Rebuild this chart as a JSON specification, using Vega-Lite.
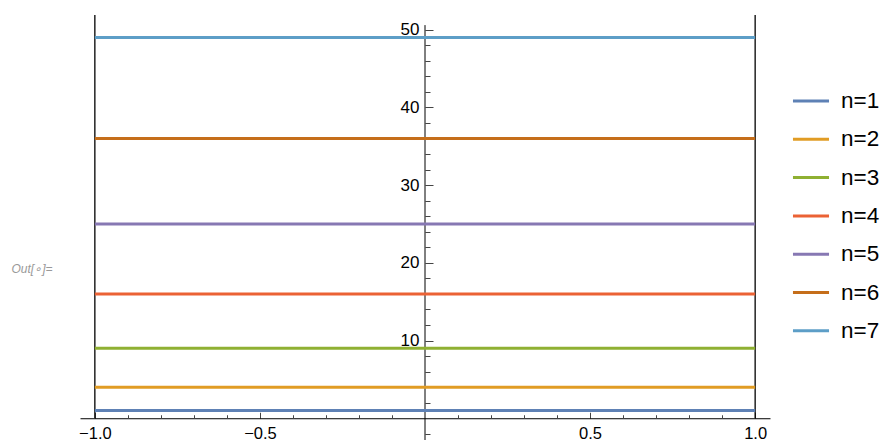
{
  "$schema": "https://vega.github.io/schema/vega-lite/v6.json",
  "autosize": "none",
  "width": 690,
  "height": 425,
  "padding": {"left": 80, "top": 15, "right": 115, "bottom": 2},
  "background": "white",
  "config": {"view": {"stroke": null}, "font": "Liberation Sans"},
  "title": {"text": "Out[∘]=", "orient": "left", "angle": 0, "align": "right", "anchor": "middle", "fontSize": 12, "fontStyle": "italic", "fontWeight": "normal", "color": "#999999", "font": "Liberation Sans", "offset": -15, "dy": 36},
  "datasets": {
    "curves": [
      {"x": -1, "y": 1, "series": "n=1"}, {"x": 1, "y": 1, "series": "n=1"},
      {"x": -1, "y": 4, "series": "n=2"}, {"x": 1, "y": 4, "series": "n=2"},
      {"x": -1, "y": 9, "series": "n=3"}, {"x": 1, "y": 9, "series": "n=3"},
      {"x": -1, "y": 16, "series": "n=4"}, {"x": 1, "y": 16, "series": "n=4"},
      {"x": -1, "y": 25, "series": "n=5"}, {"x": 1, "y": 25, "series": "n=5"},
      {"x": -1, "y": 36, "series": "n=6"}, {"x": 1, "y": 36, "series": "n=6"},
      {"x": -1, "y": 49, "series": "n=7"}, {"x": 1, "y": 49, "series": "n=7"}
    ],
    "walls": [
      {"x": -1, "ylo": 0, "yhi": 51.9},
      {"x": 1, "ylo": 0, "yhi": 51.9}
    ],
    "yaxisline": [
      {"x": 0, "ylo": -2.8, "yhi": 50.6}
    ]
  },
  "resolve": {"axis": {"x": "independent", "y": "independent"}},
  "layer": [
    {
      "data": {"name": "walls"},
      "mark": {"type": "rule", "color": "#000000", "strokeWidth": 1.3},
      "encoding": {
        "x": {"field": "x", "type": "quantitative", "scale": {"domain": [-1.045, 1.045], "nice": false, "zero": false},
          "axis": {
            "orient": "bottom", "offset": -21.76, "grid": false, "domain": true, "domainColor": "#000000", "domainWidth": 1,
            "values": [-1, -0.5, 0.5, 1],
            "tickColor": "#444444", "tickWidth": 1, "tickSize": -6,
            "format": ".1f",
            "labelFontSize": 16.5, "labelColor": "#000000", "labelPadding": 13, "labelFlush": false, "labelOverlap": false,
            "title": null
          }
        },
        "y": {"field": "ylo", "type": "quantitative", "scale": {"domain": [-2.8, 51.9], "nice": false, "zero": false},
          "axis": {
            "orient": "left", "offset": -345, "grid": false, "domain": false,
            "values": [10, 20, 30, 40, 50],
            "tickColor": "#444444", "tickWidth": 1, "tickSize": -8,
            "labelFontSize": 17, "labelColor": "#000000", "labelPadding": 14, "labelOverlap": false,
            "title": null
          }
        },
        "y2": {"field": "yhi"}
      }
    },
    {
      "data": {"name": "yaxisline"},
      "mark": {"type": "rule", "color": "#000000", "strokeWidth": 1},
      "encoding": {
        "x": {"field": "x", "type": "quantitative",
          "axis": {
            "orient": "bottom", "offset": -21.76, "grid": false, "domain": false,
            "values": [-0.9, -0.8, -0.7, -0.6, -0.4, -0.3, -0.2, -0.1, 0.1, 0.2, 0.3, 0.4, 0.6, 0.7, 0.8, 0.9],
            "tickColor": "#444444", "tickWidth": 1, "tickSize": -3.5, "labels": false, "title": null
          }
        },
        "y": {"field": "ylo", "type": "quantitative",
          "axis": {
            "orient": "left", "offset": -345, "grid": false, "domain": false,
            "values": [-2, 2, 4, 6, 8, 12, 14, 16, 18, 22, 24, 26, 28, 32, 34, 36, 38, 42, 44, 46, 48],
            "tickColor": "#444444", "tickWidth": 1, "tickSize": -5, "labels": false, "title": null
          }
        },
        "y2": {"field": "yhi"}
      }
    },
    {
      "data": {"name": "curves"},
      "mark": {"type": "line", "strokeWidth": 3, "strokeCap": "butt"},
      "encoding": {
        "x": {"field": "x", "type": "quantitative", "axis": null},
        "y": {"field": "y", "type": "quantitative", "axis": null},
        "color": {"field": "series", "type": "nominal",
          "scale": {"domain": ["n=1", "n=2", "n=3", "n=4", "n=5", "n=6", "n=7"],
            "range": ["#5E81B5", "#E19C24", "#8FB032", "#EB6235", "#8778B3", "#C56E1A", "#5D9EC7"]},
          "legend": {"orient": "none", "legendX": 711, "legendY": 66, "title": null, "symbolType": "stroke", "symbolSize": 1300, "symbolStrokeWidth": 3, "labelFontSize": 22.5, "labelColor": "#000000", "labelOffset": 10, "rowPadding": 6.3, "padding": 0}
        }
      }
    }
  ]
}
